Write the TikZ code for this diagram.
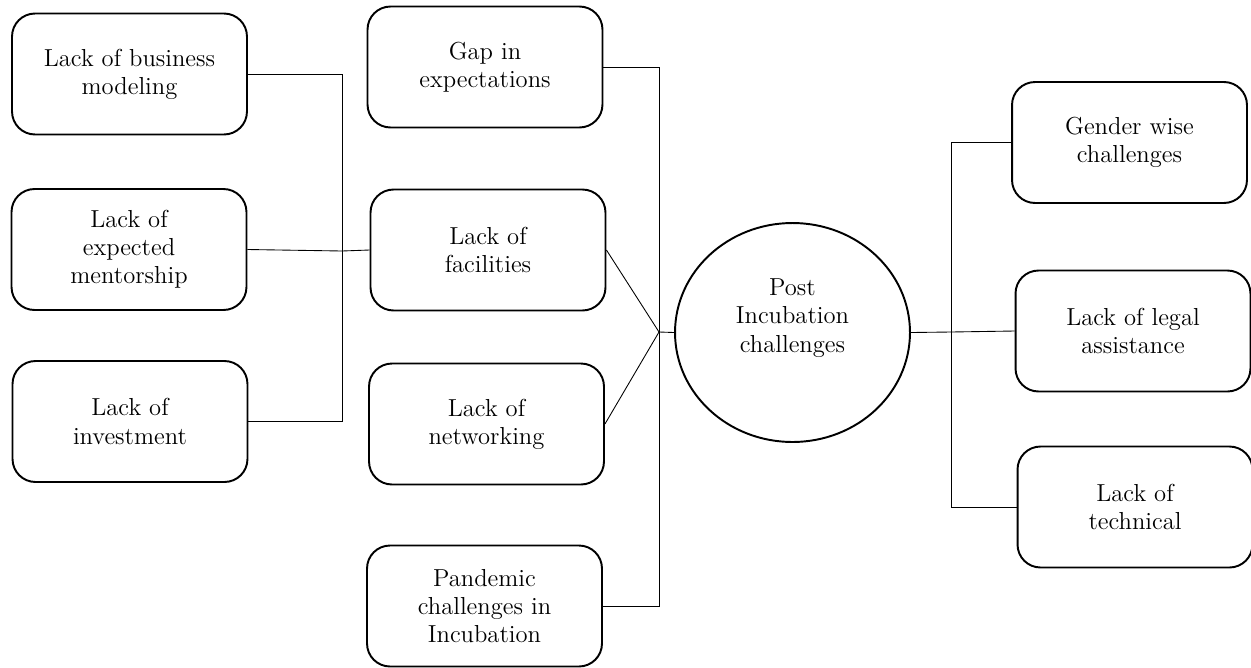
\documentclass[tikz,border=0pt]{standalone}
\usetikzlibrary{shapes.geometric}
\begin{document}
\begin{tikzpicture}[x=0.02cm, y=-0.02cm,
		every node/.style={align=center, font=\fontsize{14}{16}\selectfont},
		box/.style={draw, rounded corners=0.46cm, line width=1.1pt, minimum width=4.7cm, minimum height=2.42cm, inner sep=0pt},
		hub/.style={draw, ellipse, line width=1.1pt, minimum width=4.7cm, minimum height=4.38cm, inner sep=0pt},
		link/.style={line width=0.5pt}]
	\useasboundingbox (0,0) rectangle (1251,667);
	
	% Nodes
	\node[box] (b1) at (129.5,74) {Lack of business\\modeling};
	\node[box] (b2) at (129,249.5) {Lack of\\expected\\mentorship};
	\node[box] (b3) at (130,421.5) {Lack of\\investment};
	
	\node[box] (m1) at (485,67) {Gap in\\expectations};
	\node[box] (m2) at (488,250) {Lack of\\facilities};
	\node[box] (m3) at (486.5,424) {Lack of\\networking};
	\node[box] (m4) at (484.5,606) {Pandemic\\challenges in\\Incubation};
	
	\node[hub] (c) at (792.5,332.5) {};
	\node (ct) at (792.5,318) {Post\\Incubation\\challenges};
	
	\node[box] (r1) at (1129.5,142.5) {Gender wise\\challenges};
	\node[box] (r2) at (1133,331) {Lack of legal\\assistance};
	\node[box] (r3) at (1135,507) {Lack of\\technical};
	
	\coordinate (lj) at (342,251);
	\coordinate (mj) at (659,332);
	\coordinate (rj) at (951,332);
	
	% Edges
	\draw[link] (b1.east) -| (lj);
	\draw[link] (b3.east) -| (lj);
	\draw[link] (b2.east) -- (lj) -- (m2.west);
	
	\draw[link] (m1.east) -| (mj);
	\draw[link] (m4.east) -| (mj);
	\draw[link] (m2.east) -- (mj);
	\draw[link] (m3.east) -- (mj);
	\draw[link] (mj) -- (c.west);
	
	\draw[link] (c.east) -- (rj) -- (r2.west);
	\draw[link] (r1.west) -| (rj);
	\draw[link] (r3.west) -| (rj);
	
\end{tikzpicture}
\end{document}
